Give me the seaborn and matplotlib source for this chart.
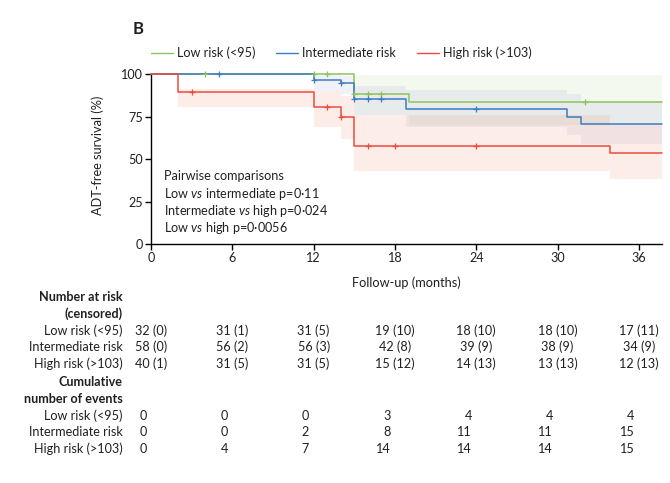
import numpy as np
import pandas as pd
import matplotlib
matplotlib.use('Agg')
import matplotlib.pyplot as plt
import matplotlib.transforms as mtransforms
from matplotlib.lines import Line2D
import seaborn as sns

# ---- data ----
groups = ['Low risk (<95)', 'Intermediate risk', 'High risk (>103)']
colors = ['#8dc45c', '#3d7cc0', '#ee4b3e']
band_colors = ['#8dc45c', '#6868c0', '#f47a50']
band_alpha = [0.09, 0.09, 0.13]

low_t = [0, 15, 19]
low_s = [100, 88.3, 83.6]
low_hi = [100, 99.5, 99.5]
low_lo = [100, 76, 70]
low_cens = [4, 12, 13, 15, 16, 17, 32]

int_t = [0, 12, 14, 15, 18.8, 30.7, 31.7]
int_s = [100, 96.5, 94.5, 85.1, 79.2, 74.9, 70.8]
int_hi = [100, 99.5, 99, 93, 90.5, 88, 84]
int_lo = [100, 90, 88, 76, 69, 64, 59]
int_cens = [5, 12, 14, 15, 16, 17, 24]

high_t = [0, 2, 12, 14, 15, 33.9]
high_s = [100, 89.6, 80.8, 74.5, 57.8, 53.3]
high_hi = [100, 91, 90, 87, 76, 70]
high_lo = [100, 80.5, 69, 61.8, 43, 38]
high_cens = [3, 13, 14, 16, 18, 24]

table_months = [0, 6, 12, 18, 24, 30, 36]
low_n = [32, 31, 31, 19, 18, 18, 17]
low_c = [0, 1, 5, 10, 10, 10, 11]
int_n = [58, 56, 56, 42, 39, 38, 34]
int_c = [0, 2, 3, 8, 9, 9, 9]
high_n = [40, 31, 31, 15, 14, 13, 12]
high_c = [1, 5, 5, 12, 13, 13, 13]
low_ev = [0, 0, 0, 3, 4, 4, 4]
int_ev = [0, 0, 2, 8, 11, 11, 15]
high_ev = [0, 4, 7, 14, 14, 14, 15]

pairwise = ['Pairwise comparisons',
            'Low $\\it{vs}$ intermediate p=0\u00b711',
            'Intermediate $\\it{vs}$ high p=0\u00b7024',
            'Low $\\it{vs}$ high p=0\u00b70056']

XMAX = 37.7
TXT = '#231f20'
FS = 9.1

sns.set_style('ticks')
plt.rcParams['font.family'] = ['Lato', 'DejaVu Sans']
plt.rcParams['mathtext.fontset'] = 'custom'
plt.rcParams['mathtext.rm'] = 'Lato'
plt.rcParams['mathtext.it'] = 'Lato:italic'
plt.rcParams['font.size'] = FS
plt.rcParams['text.color'] = TXT

W, H = 670, 483
fig = plt.figure(figsize=(W / 100, H / 100), dpi=100)
ax = fig.add_axes([151 / W, 1 - 244 / H, 511 / W, 172 / H])

curves = [
    (low_t, low_s, low_hi, low_lo, low_cens),
    (int_t, int_s, int_hi, int_lo, int_cens),
    (high_t, high_s, high_hi, high_lo, high_cens),
]

rows = []
for g, (t, s, hi, lo, cens) in zip(groups, curves):
    for ti, si in zip(list(t) + [XMAX], list(s) + [s[-1]]):
        rows.append({'group': g, 'month': ti, 'surv': si})
km = pd.DataFrame(rows)

# confidence bands first
for i, (t, s, hi, lo, cens) in enumerate(curves):
    tt = list(t) + [XMAX]
    ax.fill_between(tt, list(lo) + [lo[-1]], list(hi) + [hi[-1]], step='post',
                    color=band_colors[i], alpha=band_alpha[i], lw=0, zorder=1)

sns.lineplot(data=km, x='month', y='surv', hue='group', hue_order=groups,
             palette=colors, drawstyle='steps-post', lw=1.1, legend=False,
             errorbar=None, sort=False, ax=ax, zorder=3)
for line in ax.lines:
    line.set_clip_on(False)

# censor ticks
for i, (t, s, hi, lo, cens) in enumerate(curves):
    idx = np.searchsorted(t, cens, side='right') - 1
    ys = np.asarray(s)[idx]
    ax.plot(cens, ys, ls='none', marker='+', ms=5, mew=0.9,
            color=colors[i], clip_on=False, zorder=4)

ax.set_xlim(0, XMAX)
ax.set_ylim(0, 101.2)
ax.set_xticks(table_months)
ax.set_yticks([0, 25, 50, 75, 100])
ax.set_xlabel('')
ax.set_ylabel('')
sns.despine(ax=ax)
ax.spines['left'].set_bounds(0, 100)
for sp in ('left', 'bottom'):
    ax.spines[sp].set_color('black')
    ax.spines[sp].set_linewidth(1.0)
ax.tick_params(axis='both', length=4, width=1.0, color='black',
               labelsize=FS, labelcolor=TXT, pad=2)

# pairwise comparisons
for k, txt in enumerate(pairwise):
    y_px = [180.5, 198.0, 214.7, 231.5][k]
    fig.text(164.3 / W, 1 - y_px / H, txt, ha='left', va='baseline', fontsize=FS)

fig.text(98 / W, 1 - 155 / H, 'ADT-free survival (%)', rotation=90,
         ha='center', va='center', fontsize=9.2)
fig.text(406.5 / W, 1 - 283 / H, 'Follow-up (months)', ha='center',
         va='center', fontsize=9.2)
fig.text(133 / W, 1 - 29 / H, 'B', ha='left', va='center', fontsize=12,
         fontweight='bold')

handles = [Line2D([], [], color=c, lw=1.0) for c in colors]
fig.legend(handles, groups, loc='center left',
           bbox_to_anchor=(151 / W, 1 - 53 / H), ncol=3, frameon=False,
           borderpad=0, borderaxespad=0, handlelength=1.75,
           handletextpad=0.3, columnspacing=1.65, fontsize=FS)

# number at risk / cumulative events table
trans = mtransforms.blended_transform_factory(ax.transData, fig.transFigure)
trans_ev = mtransforms.offset_copy(trans, fig=fig, x=-4.5, units='dots')
LX = 122.7 / W

def label(y_px, txt, bold=False):
    fig.text(LX, 1 - y_px / H, txt, ha='right', va='baseline', fontsize=FS,
             fontweight='bold' if bold else 'normal')

label(301, 'Number at risk', True)
label(318, '(censored)', True)
for y_px, g, n, c in zip([334.7, 351.2, 367.7], groups,
                         [low_n, int_n, high_n], [low_c, int_c, high_c]):
    label(y_px, g)
    for m, ni, ci in zip(table_months, n, c):
        ax.text(m, 1 - y_px / H, f'{ni} ({ci})', transform=trans,
                ha='center', va='baseline', fontsize=FS, clip_on=False)

label(386, 'Cumulative', True)
label(403, 'number of events', True)
for y_px, g, ev in zip([420, 436.5, 453], groups, [low_ev, int_ev, high_ev]):
    label(y_px, g)
    for m, e in zip(table_months, ev):
        ax.text(m, 1 - y_px / H, str(e), transform=trans_ev,
                ha='right', va='baseline', fontsize=FS, clip_on=False)

fig.savefig('out.png', dpi=100)
